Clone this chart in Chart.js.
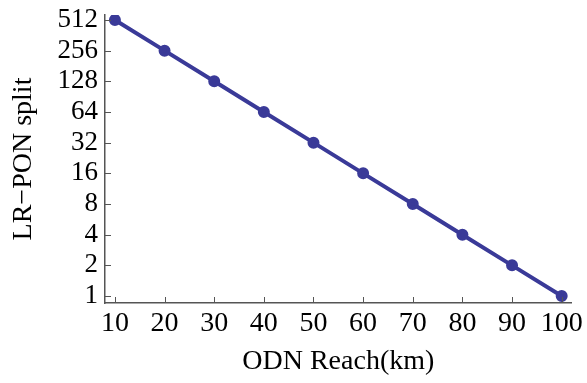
<!DOCTYPE html>
<html>
<head>
<meta charset="utf-8">
<script src="https://cdn.jsdelivr.net/npm/chart.js@4"></script>
<style>
  html, body { margin: 0; padding: 0; background: #fff; }
  #wrap { width: 587px; height: 383px; }
</style>
</head>
<body>
<div id="wrap"><canvas id="chart"></canvas></div>
<script>
// ODN reach (km) vs. LR-PON split
const reachKm = [10, 20, 30, 40, 50, 60, 70, 80, 90, 100];
const splitRatio = [512, 256, 128, 64, 32, 16, 8, 4, 2, 1];
const xTicks = [10, 20, 30, 40, 50, 60, 70, 80, 90, 100];
const yTicks = [1, 2, 4, 8, 16, 32, 64, 128, 256, 512];

const lineColor = 'rgb(58, 58, 152)';
const axisColor = '#555';
const font = 'Liberation Serif';

// small tick marks pointing into the plot, like the original
const innerTicks = {
    id: 'innerTicks',
    afterDraw(chart) {
        const { ctx, chartArea, scales } = chart;
        ctx.save();
        ctx.strokeStyle = axisColor;
        ctx.lineWidth = 1;
        xTicks.forEach(v => {
            const x = Math.round(scales.x.getPixelForValue(v)) + 0.5;
            ctx.beginPath();
            ctx.moveTo(x, chartArea.bottom);
            ctx.lineTo(x, chartArea.bottom - 6);
            ctx.stroke();
        });
        yTicks.forEach(v => {
            const y = Math.round(scales.y.getPixelForValue(v)) + 0.5;
            ctx.beginPath();
            ctx.moveTo(chartArea.left, y);
            ctx.lineTo(chartArea.left + 6, y);
            ctx.stroke();
        });
        ctx.restore();
    }
};

new Chart(document.getElementById('chart'), {
    type: 'line',
    data: {
        labels: reachKm,
        datasets: [{
            data: reachKm.map((x, i) => ({ x: x, y: splitRatio[i] })),
            borderColor: lineColor,
            backgroundColor: lineColor,
            borderWidth: 4,
            pointRadius: 4,
            pointHoverRadius: 4,
            tension: 0
        }]
    },
    options: {
        responsive: true,
        maintainAspectRatio: false,
        animation: false,
        layout: { padding: { top: 15, right: 15, left: 0, bottom: 0 } },
        plugins: { legend: { display: false }, tooltip: { enabled: false } },
        scales: {
            x: {
                type: 'linear',
                min: 8,
                max: 102,
                afterBuildTicks: s => { s.ticks = xTicks.map(v => ({ value: v })); },
                afterFit: s => { s.height = 80; },
                grid: { display: false, drawTicks: false },
                border: { display: true, color: axisColor, width: 1.5 },
                ticks: {
                    color: '#000',
                    padding: 4,
                    maxRotation: 0,
                    autoSkip: false,
                    font: { family: font, size: 28 }
                },
                title: {
                    display: true,
                    text: 'ODN Reach(km)',
                    color: '#000',
                    padding: { top: 0, bottom: 5 },
                    font: { family: font, size: 28 }
                }
            },
            y: {
                type: 'logarithmic',
                min: 0.854,
                max: 573,
                afterBuildTicks: s => { s.ticks = yTicks.map(v => ({ value: v })); },
                afterFit: s => { s.width = 105; s.paddingTop = 0; s.paddingBottom = 0; },
                grid: { display: false, drawTicks: false },
                border: { display: true, color: axisColor, width: 1.5 },
                ticks: {
                    color: '#000',
                    padding: 7,
                    autoSkip: false,
                    callback: v => String(v),
                    font: { family: font, size: 27, lineHeight: 1 }
                },
                title: {
                    display: true,
                    text: 'LR\u2212PON split',
                    color: '#000',
                    padding: { top: 7, bottom: 0 },
                    font: { family: font, size: 28 }
                }
            }
        }
    },
    plugins: [innerTicks]
});
</script>
</body>
</html>
